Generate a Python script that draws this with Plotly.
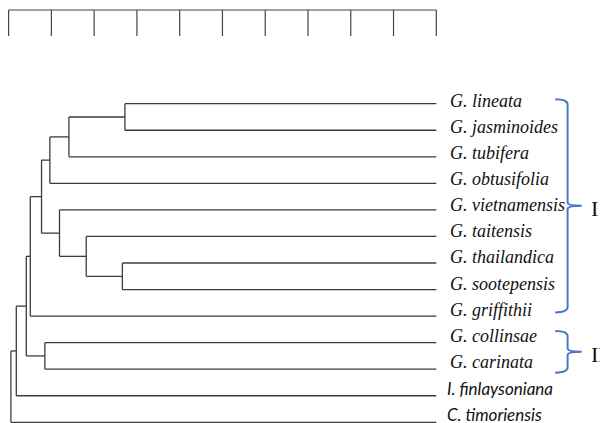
import plotly.graph_objects as go

# ---------------- data ----------------
leaves = ["G. lineata", "G. jasminoides", "G. tubifera", "G. obtusifolia",
          "G. vietnamensis", "G. taitensis", "G. thailandica", "G. sootepensis",
          "G. griffithii", "G. collinsae", "G. carinata",
          "I. finlaysoniana", "C. timoriensis"]
leaf_level = 10.0

merge_name = ["n1", "n2", "n3", "n4", "n5", "n6", "n7", "n8", "n9", "n10", "n11", "n12"]
merge_left = ["G. lineata", "n1", "n2", "G. thailandica", "G. taitensis", "G. vietnamensis",
              "n3", "n7", "G. collinsae", "n8", "n10", "n11"]
merge_right = ["G. jasminoides", "G. tubifera", "G. obtusifolia", "G. sootepensis", "n4", "n5",
               "n6", "G. griffithii", "G. carinata", "n9", "I. finlaysoniana", "C. timoriensis"]
merge_level = [2.72, 1.41, 0.965, 2.66, 1.815, 1.19, 0.77, 0.507, 0.848, 0.414, 0.18, 0.054]

scale_ticks = list(range(0, 11))

group_names = ["I", "II"]
group_first = ["G. lineata", "G. collinsae"]
group_last = ["G. griffithii", "G. carinata"]

# ---------------- geometry ----------------
pos = {}
for i, name in enumerate(leaves):
    pos[name] = (leaf_level, i)
for n, l, r, lv in zip(merge_name, merge_left, merge_right, merge_level):
    pos[n] = (lv, (pos[l][1] + pos[r][1]) / 2.0)

xs, ys = [], []
for n, l, r, lv in zip(merge_name, merge_left, merge_right, merge_level):
    yl, yr = pos[l][1], pos[r][1]
    xs += [lv, lv, None]
    ys += [yl, yr, None]
    for c in (l, r):
        xs += [lv, pos[c][0], None]
        ys += [pos[c][1], pos[c][1], None]

LINE = "#3c3c3c"
fig = go.Figure()
fig.add_trace(go.Scatter(x=xs, y=ys, mode="lines",
                         line=dict(color=LINE, width=1.3),
                         hoverinfo="skip", showlegend=False))

# scale bar
sb_top, sb_bot = -3.53, -2.55
sx, sy = [scale_ticks[0], scale_ticks[-1], None], [sb_top, sb_top, None]
for t in scale_ticks:
    sx += [t, t, None]
    sy += [sb_top, sb_bot, None]
fig.add_trace(go.Scatter(x=sx, y=sy, mode="lines",
                         line=dict(color="#444444", width=1.2),
                         hoverinfo="skip", showlegend=False))

# leaf labels (the label column is set on a slightly tighter pitch than the lines)
for i, name in enumerate(leaves):
    x, y = pos[name]
    serif = name.startswith("G.")
    fig.add_annotation(x=x, y=y, text="<i>%s</i>" % name, showarrow=False,
                       xanchor="left", yanchor="middle",
                       xshift=12 if serif else 9, yshift=3 + 0.42 * i,
                       font=dict(family="Liberation Serif" if serif else "Lato",
                                 size=18 if serif else 17, color="#111111"))

# braces
BLUE = "#4a78c2"
grp_top_off = [-0.17, -0.44]
grp_bot_off = [-0.14, 0.13]
x0, x1, xt = 12.78, 13.07, 13.40
for g, f, l, to, bo in zip(group_names, group_first, group_last, grp_top_off, grp_bot_off):
    y0 = pos[f][1] + to
    y1 = pos[l][1] + bo
    ym = (y0 + y1) / 2.0
    r = 0.2
    r2 = 0.12
    path = (f"M {x0},{y0} Q {x1},{y0} {x1},{y0 + r} L {x1},{ym - r2} "
            f"Q {x1},{ym} {xt},{ym} Q {x1},{ym} {x1},{ym + r2} "
            f"L {x1},{y1 - r} Q {x1},{y1} {x0},{y1}")
    fig.add_shape(type="path", path=path, xref="x", yref="y",
                  line=dict(color=BLUE, width=2))
    fig.add_annotation(x=13.56, y=ym, text=g, showarrow=False,
                       xanchor="left", yanchor="middle", yshift=-3,
                       font=dict(family="Liberation Serif", size=22, color="#111111"))

# The page body has an 8 px margin, so the figure is 8 px smaller than the window
PXX, PXY = 42.77, 26.55
fig.update_layout(
    width=600, height=415,
    margin=dict(l=0, r=0, t=0, b=0),
    paper_bgcolor="white", plot_bgcolor="white",
    xaxis=dict(range=[-0.6 / PXX, 599.4 / PXX], visible=False, fixedrange=True),
    yaxis=dict(range=[(415 - 95.7) / PXY, -95.7 / PXY], visible=False, fixedrange=True),
    showlegend=False,
)
fig.write_html("out.html")
